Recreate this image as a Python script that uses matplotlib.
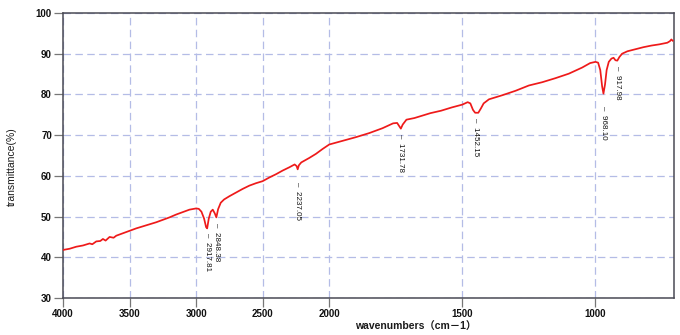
import numpy as np
import matplotlib
matplotlib.use("Agg")
import matplotlib.pyplot as plt

# ---------------- data ----------------
wavenumber = [4000, 3950, 3900, 3850, 3800, 3780, 3750, 3720, 3700, 3680, 3650, 3620,
              3600, 3550, 3500, 3450, 3400, 3350, 3300, 3250, 3200, 3150, 3100, 3050,
              3000, 2980, 2960, 2940, 2925, 2917, 2905, 2890, 2875, 2860, 2848, 2835,
              2815, 2790, 2750, 2700, 2650, 2600, 2550, 2500, 2450, 2400, 2350, 2300,
              2260, 2245, 2237, 2228, 2210, 2150, 2100, 2050, 2000, 1950, 1900, 1850,
              1800, 1760, 1745, 1738, 1731, 1724, 1710, 1680, 1650, 1620, 1580, 1540,
              1500, 1480, 1470, 1460, 1452, 1440, 1430, 1420, 1400, 1350, 1300, 1250,
              1200, 1150, 1100, 1050, 1020, 1000, 990, 982, 975, 970, 964, 958, 950,
              940, 932, 925, 918, 910, 900, 880, 850, 820, 790, 760, 730, 720, 715, 710]
transmittance = [41.8, 42.1, 42.6, 42.9, 43.4, 43.2, 43.9, 44.0, 44.5, 44.1, 45.0, 44.8,
                 45.3, 45.9, 46.5, 47.1, 47.6, 48.1, 48.6, 49.2, 49.8, 50.5, 51.1, 51.7,
                 52.0, 51.9, 51.2, 49.5, 47.4, 47.1, 49.5, 51.2, 51.7, 50.8, 49.8, 51.8,
                 53.4, 54.2, 55.0, 55.9, 56.8, 57.6, 58.2, 58.7, 59.6, 60.4, 61.3, 62.1,
                 62.8, 62.4, 61.6, 62.6, 63.3, 64.4, 65.4, 66.6, 67.7, 68.6, 69.5, 70.5,
                 71.7, 72.9, 73.0, 72.3, 71.6, 72.6, 73.8, 74.2, 74.8, 75.4, 76.0, 76.8,
                 77.5, 78.1, 77.8, 76.2, 75.5, 75.5, 76.6, 77.8, 78.8, 79.8, 80.9, 82.2,
                 83.0, 84.0, 85.1, 86.6, 87.7, 88.0, 87.8, 86.0, 82.0, 80.2, 82.5, 86.0, 88.0,
                 88.8, 89.0, 88.4, 88.3, 89.2, 90.0, 90.6, 91.1, 91.6, 92.0, 92.3, 92.7, 93.1, 93.5, 93.2]

peak_positions = [2917.81, 2848.38, 2237.05, 1731.78, 1452.15, 968.10, 917.98]
peak_labels = ["2917.81", "2848.38", "2237.05", "1731.78", "1452.15", "968.10", "917.98"]
peak_values = [47.1, 49.8, 61.6, 71.6, 75.5, 80.2, 88.3]

x_ticks = [4000, 3500, 3000, 2500, 2000, 1500, 1000]
y_ticks = [30, 40, 50, 60, 70, 80, 90, 100]

# ---------------- styling ----------------
label_offsets_pt = [3, 4, 9, 4, 4, 9, 4]   # gap below each dip (points)
RED = "#ee1a1a"
GRID = "#b4bce6"
SPINE = "#4a4a55"

plt.rcParams['font.family'] = ['Liberation Sans', 'DejaVu Sans', 'Noto Sans CJK JP']


# Expanded scale below 2000 cm-1 (typical IR chart): 4000-2000 at half scale
def fwd(w):
    w = np.asarray(w, dtype=float)
    return np.where(w >= 2000, (w - 2000) / 2.0, w - 2000)


def inv(u):
    u = np.asarray(u, dtype=float)
    return np.where(u >= 0, 2000 + 2.0 * u, u + 2000)


fig = plt.figure(figsize=(6.8, 3.35), dpi=100)
ax = fig.add_axes([63 / 680, 1 - 298 / 335, (674 - 63) / 680, (298 - 13) / 335])
ax.set_xscale('function', functions=(fwd, inv))
ax.set_xlim(4000, 705)
ax.set_ylim(30, 100)

ax.plot(wavenumber, transmittance, color=RED, lw=1.25, zorder=3)

ax.set_xticks(x_ticks)
ax.set_xticklabels([str(t) for t in x_ticks])
ax.set_yticks(y_ticks)
ax.minorticks_off()
ax.grid(True, color=GRID, lw=0.9, ls=(0, (6, 3.5)), zorder=1)

for s in ax.spines.values():
    s.set_color(SPINE)
    s.set_linewidth(1.1)
ax.tick_params(axis='both', direction='out', length=6.5, width=0.9, color='#777777',
               labelsize=7, pad=1.5)
for lab in ax.get_xticklabels() + ax.get_yticklabels():
    lab.set_fontweight('bold')
    lab.set_color('#111111')

for w, t, txt, off in zip(peak_positions, peak_values, peak_labels, label_offsets_pt):
    ax.annotate("–  " + txt, xy=(w, t), xytext=(0, -off), textcoords='offset points',
                rotation=-90, ha='center', va='top', fontsize=5.8, color='#111111',
                zorder=4)

fig.text(12 / 680, 1 - 167 / 335, "transmittance(%)", rotation=90, ha='center', va='center',
         fontsize=7.5, color='#1a1a1a')
fig.text(416 / 680, 1 - 327 / 335, "wavenumbers（cm－1）", ha='center', va='center',
         fontsize=7.5, color='#1a1a1a', fontweight='bold')

fig.savefig("out.png", dpi=100)
